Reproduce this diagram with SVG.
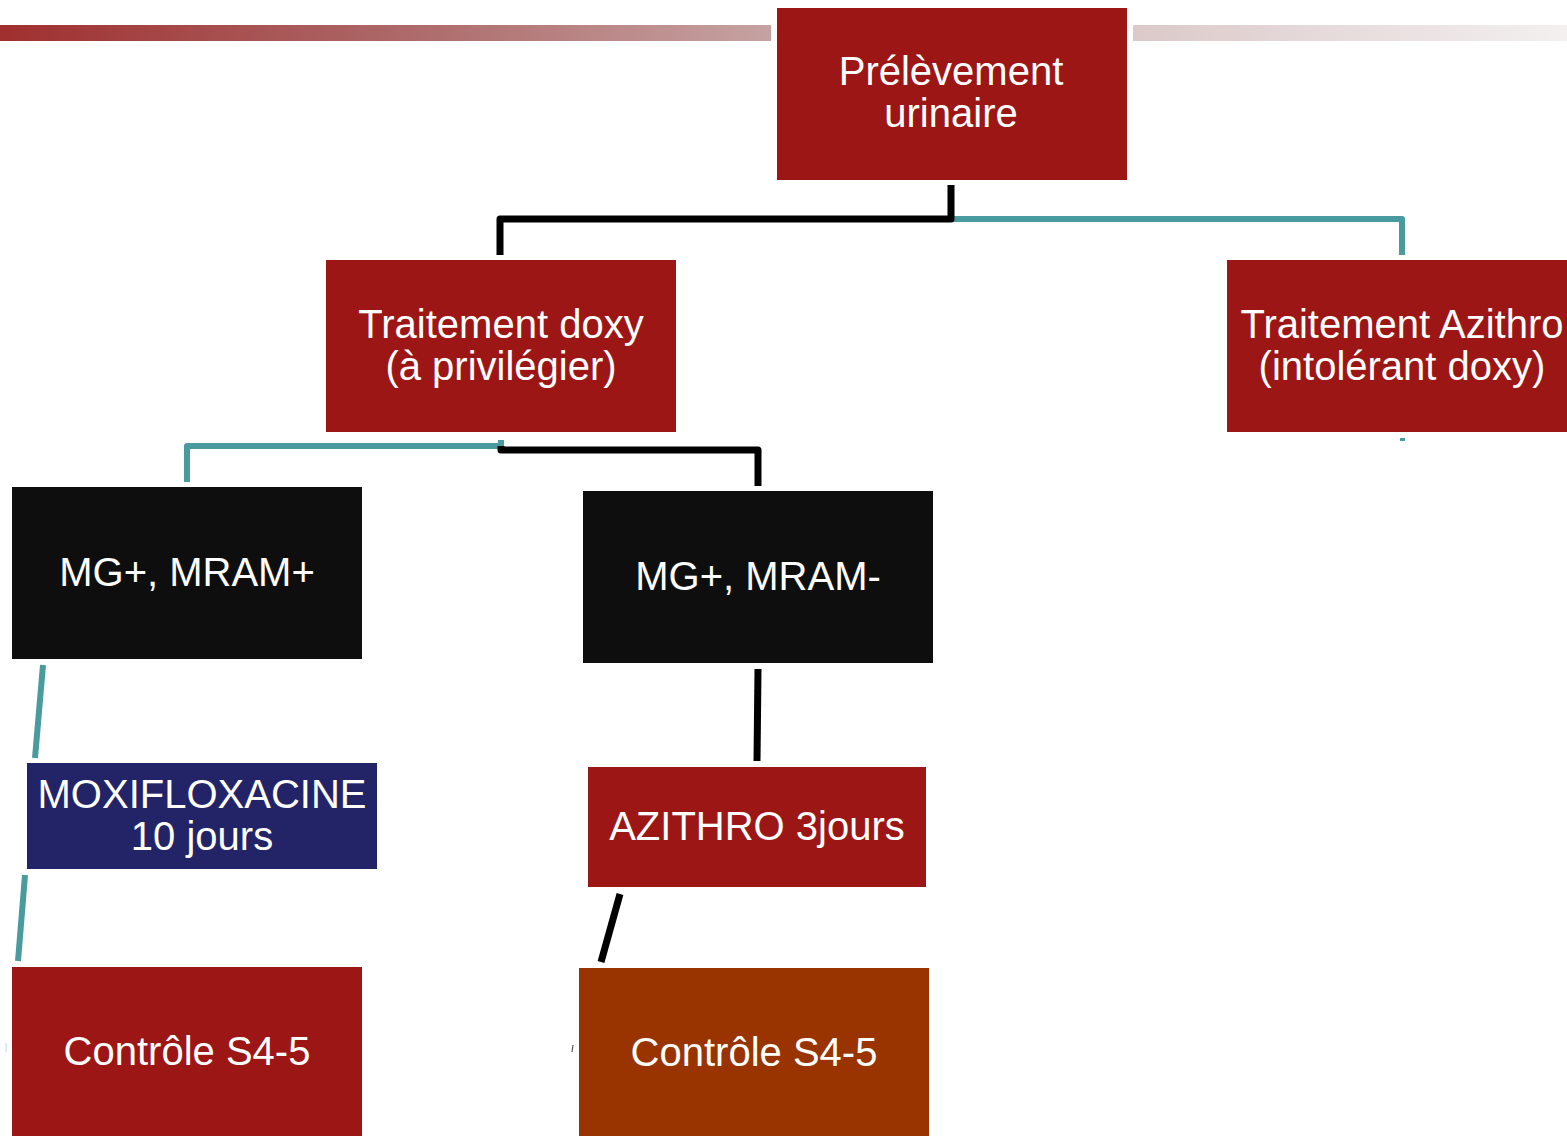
<svg xmlns="http://www.w3.org/2000/svg" width="1567" height="1136" viewBox="0 0 1567 1136">
<defs>
<linearGradient id="barL" x1="0" y1="0" x2="1" y2="0"><stop offset="0" stop-color="#a02f2f"/><stop offset="0.5" stop-color="#ac6666"/><stop offset="1" stop-color="#c6a2a2"/></linearGradient>
<linearGradient id="barR" x1="0" y1="0" x2="1" y2="0"><stop offset="0" stop-color="#dcc9c9"/><stop offset="1" stop-color="#f3f0f0"/></linearGradient>
<style>
.red{fill:#9c1616}
.blk{fill:#0e0e0e}
.blue{fill:#232367}
.brn{fill:#993300}
.t{font-family:"Liberation Sans",Arial,sans-serif;font-size:40px;fill:#ffffff;text-anchor:middle}
.cb{fill:none;stroke:#000000;stroke-width:7;stroke-linejoin:round}
.ct{fill:none;stroke:#4a9ba0;stroke-width:6;stroke-linejoin:round}
</style>
</defs>
<rect x="0" y="25" width="771" height="16" fill="url(#barL)"/>
<rect x="1133" y="25" width="434" height="16" fill="url(#barR)"/>
<g id="connectors">
<path class="ct" d="M951 219 H1402 V255"/>
<path class="cb" d="M951 185 V219 H500 V255"/>
<path class="ct" d="M501 440 V446 H187 V482"/>
<path class="cb" d="M501 446 V450 H758 V486"/>
<path class="ct" d="M43 665 L35 758"/>
<path class="ct" d="M25 875 L18 961"/>
<path class="cb" d="M758 669 L757 761"/>
<path class="cb" d="M620 894 L601 962"/>
<rect x="1400" y="438" width="5" height="3" fill="#4a9ba0"/>
<line x1="6" y1="1043" x2="6" y2="1052" stroke="#b8dcdf" stroke-width="1"/>
<line x1="573" y1="1045" x2="572" y2="1052" stroke="#555555" stroke-width="1.2"/>
</g>
<g id="n1"><rect class="red" x="777" y="8" width="350" height="172"/><text class="t" x="951" y="85">Prélèvement</text><text class="t" x="951" y="127">urinaire</text></g>
<g id="n2"><rect class="red" x="326" y="260" width="350" height="172"/><text class="t" x="501" y="338">Traitement doxy</text><text class="t" x="501" y="380">(à privilégier)</text></g>
<g id="n3"><rect class="red" x="1227" y="260" width="340" height="172"/><text class="t" x="1402" y="338">Traitement Azithro</text><text class="t" x="1402" y="380">(intolérant doxy)</text></g>
<g id="n4"><rect class="blk" x="12" y="487" width="350" height="172"/><text class="t" x="187" y="586">MG+, MRAM+</text></g>
<g id="n5"><rect class="blk" x="583" y="491" width="350" height="172"/><text class="t" x="758" y="590">MG+, MRAM-</text></g>
<g id="n6"><rect class="blue" x="27" y="763" width="350" height="106"/><text class="t" x="202" y="808">MOXIFLOXACINE</text><text class="t" x="202" y="850">10 jours</text></g>
<g id="n7"><rect class="red" x="588" y="767" width="338" height="120"/><text class="t" x="757" y="840">AZITHRO 3jours</text></g>
<g id="n8"><rect class="red" x="12" y="967" width="350" height="172"/><text class="t" x="187" y="1065">Contrôle S4-5</text></g>
<g id="n9"><rect class="brn" x="579" y="968" width="350" height="172"/><text class="t" x="754" y="1066">Contrôle S4-5</text></g>
</svg>
